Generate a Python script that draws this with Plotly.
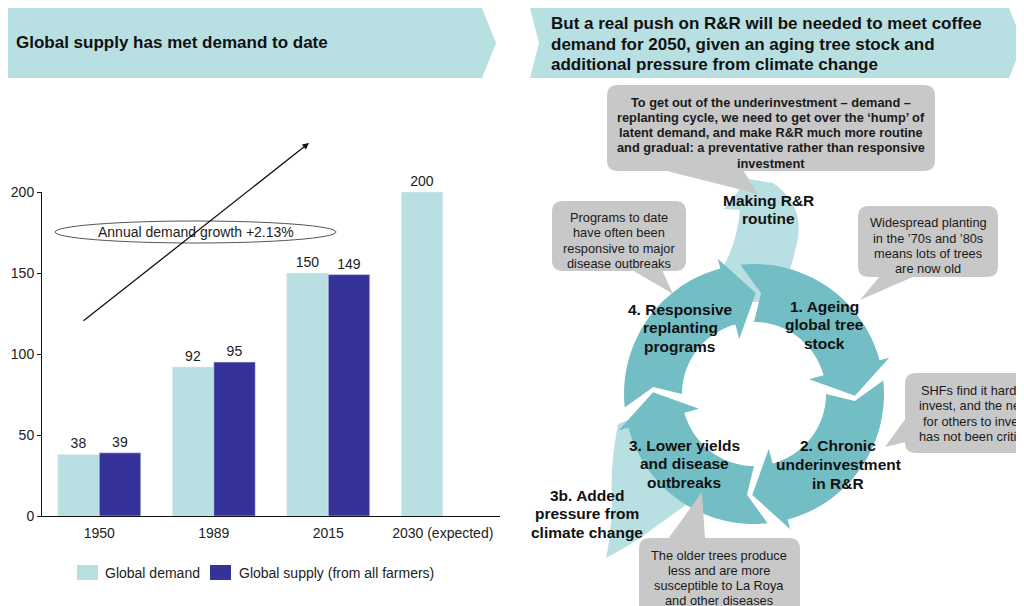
import math
import plotly.graph_objects as go

# ---- data (left chart) ----
years = ["1950", "1989", "2015", "2030 (expected)"]
demand = [38, 92, 150, 200]
supply = [39, 95, 149, None]
y_ticks = [0, 50, 100, 150, 200]
series_names = ["Global demand", "Global supply (from all farmers)"]
growth_label = "Annual demand growth +2.13%"

left_title = "Global supply has met demand to date"
right_title = ["But a real push on R&R will be needed to meet coffee",
               "demand for 2050, given an aging tree stock and",
               "additional pressure from climate change"]

W, H = 1024, 606
OFF = 8  # the page body adds an 8px margin around the figure
FONT = "Arial, Liberation Sans, sans-serif"
LIGHT = "#b8dfe2"
DARK = "#353399"
RING = "#72bec4"
GREY = "#c8c8c8"


def fx(x):
    return (x - OFF) / W


def fy(y):
    return 1 - (y - OFF) / H


def pt(x, y):
    return f"{fx(x):.5f},{fy(y):.5f}"


def poly(points):
    return "M" + " L".join(pt(x, y) for x, y in points) + " Z"


def rrect(x0, y0, x1, y1, r):
    return (f"M{pt(x0 + r, y0)} L{pt(x1 - r, y0)} Q{pt(x1, y0)} {pt(x1, y0 + r)} "
            f"L{pt(x1, y1 - r)} Q{pt(x1, y1)} {pt(x1 - r, y1)} "
            f"L{pt(x0 + r, y1)} Q{pt(x0, y1)} {pt(x0, y1 - r)} "
            f"L{pt(x0, y0 + r)} Q{pt(x0, y0)} {pt(x0 + r, y0)} Z")


def text_at(x, y, txt, size, xanchor="center", color="#1a1a1a", bold=False):
    if bold:
        txt = f"<b>{txt}</b>"
    return dict(x=fx(x), y=fy(y), xref="paper", yref="paper", xanchor=xanchor,
                yanchor="middle", showarrow=False, text=txt,
                font=dict(size=size, color=color))


def lines_at(x, y0, step, lines, size, xanchor="center", color="#1a1a1a", bold=False):
    return [text_at(x, y0 + i * step, ln, size, xanchor, color, bold)
            for i, ln in enumerate(lines)]


fig = go.Figure()
fig.add_trace(go.Bar(
    x=years, y=demand, name=series_names[0], marker_color=LIGHT,
    text=demand, textposition="outside", cliponaxis=False,
    textfont=dict(size=14, color="#222"), showlegend=False,
))
fig.add_trace(go.Bar(
    x=years, y=supply, name=series_names[1], marker_color=DARK,
    text=[str(v) if v is not None else "" for v in supply], textposition="outside",
    cliponaxis=False, textfont=dict(size=14, color="#222"), showlegend=False,
))

shapes = []
annotations = []

# legend (drawn by hand to get the wide swatches)
for (sx, tx), name, col in zip([(77, 103), (210, 237)], series_names, [LIGHT, DARK]):
    shapes.append(dict(type="rect", xref="paper", yref="paper", x0=fx(sx), x1=fx(sx + 21),
                       y0=fy(580), y1=fy(565), fillcolor=col, line_width=0))
    annotations.append(text_at(tx, 573, name, 14, "left", "#222"))

# header banners
shapes.append(dict(type="path", xref="paper", yref="paper", fillcolor=LIGHT, line_width=0,
                   path=poly([(4, 8), (482, 8), (496, 43), (482, 78), (4, 78)])))
shapes.append(dict(type="path", xref="paper", yref="paper", fillcolor=LIGHT, line_width=0,
                   path=poly([(530, 8), (1009, 8), (1023, 43), (1009, 78), (530, 78), (539, 43)])))
annotations.append(text_at(14, 43, left_title, 17, "left", "#111", True))
annotations += lines_at(549, 23.5, 20.5, right_title, 17, "left", "#111", True)

# growth ellipse + arrow
shapes.append(dict(type="circle", xref="paper", yref="paper",
                   x0=fx(55), x1=fx(336), y0=fy(243), y1=fy(221),
                   fillcolor="white", line=dict(color="#555", width=1)))
annotations.append(text_at(196, 232, growth_label, 14, color="#222"))
annotations.append(dict(x=fx(309), y=fy(143), xref="paper", yref="paper",
                        ax=-227, ay=179, showarrow=True, text="", arrowhead=2,
                        arrowsize=1, arrowwidth=1.3, arrowcolor="#111", standoff=0))

# ---- cycle diagram ----
CX, CY, R_OUT, R_IN = 754, 394, 130, 72
R_MID = (R_OUT + R_IN) / 2


def polar(r, deg):
    a = math.radians(deg)
    return (CX + r * math.cos(a), CY - r * math.sin(a))


def arc(r, a0, a1, n=30):
    return [polar(r, a0 + (a1 - a0) * i / n) for i in range(n + 1)]


# light side arrows (under the ring)
shapes.append(dict(type="path", xref="paper", yref="paper", fillcolor=LIGHT, line_width=0,
                   path=(f"M{pt(722, 302)} L{pt(720, 272)} Q{pt(737, 245)} {pt(740, 210)} "
                         f"L{pt(724, 209)} L{pt(748, 179)} L{pt(773, 183)} "
                         f"Q{pt(803, 203)} {pt(798, 238)} Q{pt(794, 258)} {pt(789, 272)} "
                         f"L{pt(782, 302)} Z")))
shapes.append(dict(type="path", xref="paper", yref="paper", fillcolor=LIGHT, line_width=0,
                   path=(f"M{pt(652, 410)} L{pt(618, 424)} Q{pt(610, 465)} {pt(612, 500)} "
                         f"Q{pt(612, 530)} {pt(606, 558)} Q{pt(625, 548)} {pt(640, 538)} "
                         f"Q{pt(665, 520)} {pt(690, 502)} L{pt(702, 470)} Z")))

heads = [15, -75, -165, 105]
tails = [105, 15, -75, 195]
for head, prev in zip(heads, tails):
    t_out, t_notch, t_in = prev - 9, prev - 19, prev - 15
    pts = arc(R_OUT, t_out, head)
    pts += [polar(R_OUT + 10, head), polar(R_MID, head - 16), polar(R_IN - 15, head)]
    pts += arc(R_IN, head, t_in)
    pts += [polar(R_MID, t_notch)]
    shapes.append(dict(type="path", xref="paper", yref="paper", fillcolor=RING,
                       line_width=0, path=poly(pts)))

# callouts: box, pointer, text centre x, first line y, line step, lines, bold
callouts = [
    ((607, 85, 935, 171), [(663, 170), (743, 170), (758, 194)], 771, 102, 15.3,
     ["To get out of the underinvestment – demand –",
      "replanting cycle, we need to get over the ‘hump’ of",
      "latent demand, and make R&R much more routine",
      "and gradual: a preventative rather than responsive",
      "investment"], True),
    ((552, 201, 686, 271), [(632, 270), (662, 270), (673, 294)], 619, 217.5, 15.3,
     ["Programs to date", "have often been", "responsive to major", "disease outbreaks"], False),
    ((858, 206, 998, 277), [(880, 276), (915, 276), (860, 300)], 928, 222.7, 15.3,
     ["Widespread planting", "in the ’70s and ’80s", "means lots of trees", "are now old"], False),
    ((905, 373, 1060, 453), [(906, 418), (906, 442), (885, 447)], 976, 390, 15.5,
     ["SHFs find it hard to", "invest, and the need", "for others to invest",
      "has not been critical"], False),
    ((639, 538, 800, 650), [(668, 539), (705, 539), (702, 492)], 719, 555, 15.3,
     ["The older trees produce", "less and are more", "susceptible to La Roya",
      "and other diseases"], False),
]
for box, tri, tx, ty, step, lines, bold in callouts:
    shapes.append(dict(type="path", xref="paper", yref="paper", fillcolor=GREY, line_width=0,
                       path=rrect(*box, 11)))
    shapes.append(dict(type="path", xref="paper", yref="paper", fillcolor=GREY, line_width=0,
                       path=poly(tri)))
    annotations += lines_at(tx, ty, step, lines, 12.8, bold=bold)

labels = [
    (680, 309.3, ["4. Responsive", "replanting", "programs"]),
    (824, 306, ["1. Ageing", "global tree", "stock"]),
    (838, 445.7, ["2. Chronic", "underinvestment", "in R&R"]),
    (684, 445, ["3. Lower yields", "and disease", "outbreaks"]),
    (587, 495, ["3b. Added", "pressure from", "climate change"]),
    (768, 200, ["Making R&R", "routine"]),
]
for x, y, lines in labels:
    annotations += lines_at(x, y, 18.7, lines, 15.5, color="#111", bold=True)

fig.update_layout(
    width=W, height=H, autosize=False,
    margin=dict(l=0, r=0, t=0, b=0, pad=0, autoexpand=False),
    paper_bgcolor="white", plot_bgcolor="white",
    font=dict(family=FONT, size=14, color="#222"),
    barmode="group", bargap=0.275, bargroupgap=0,
    showlegend=False,
    xaxis=dict(domain=[fx(42), fx(500)], showline=True, linecolor="#111", linewidth=1,
               ticks="", showgrid=False, tickfont=dict(size=14), ticklabelstandoff=4,
               automargin=False, fixedrange=True),
    yaxis=dict(domain=[fy(516), fy(192)], range=[0, 200], tickvals=y_ticks,
               showline=True, linecolor="#111", linewidth=1, ticks="outside", ticklen=4,
               tickcolor="#111", showgrid=False, zeroline=False, tickfont=dict(size=14),
               automargin=False, fixedrange=True),
    shapes=shapes,
    annotations=annotations,
)

fig.write_html("out.html")
